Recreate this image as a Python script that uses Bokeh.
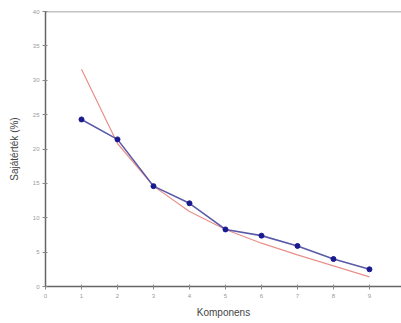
from bokeh.plotting import figure
from bokeh.models import Span, FixedTicker
from bokeh.embed import file_html
from bokeh.resources import INLINE

components = [1, 2, 3, 4, 5, 6, 7, 8, 9]
eigen_pct = [24.3, 21.4, 14.6, 12.1, 8.3, 7.4, 5.9, 4.0, 2.5]
fit_pct = [31.6, 20.8, 14.6, 10.9, 8.3, 6.3, 4.6, 3.0, 1.4]
x_ticks = [0, 1, 2, 3, 4, 5, 6, 7, 8, 9]
y_ticks = [0, 5, 10, 15, 20, 25, 30, 35, 40]

p = figure(width=401, height=320, output_backend="svg", toolbar_location=None,
           x_range=(0, 9.89), y_range=(0, 40),
           min_border_left=45, min_border_top=11, min_border_bottom=30, min_border_right=0)
p.outline_line_color = None
p.xgrid.visible = False
p.ygrid.visible = False
p.background_fill_color = "white"

p.line(components, fit_pct, line_color="#e8908a", line_width=1.2)
p.line(components, eigen_pct, line_color="#5a5aa8", line_width=1.6)
p.scatter(components, eigen_pct, size=5, color="#1a1a90")

top = Span(location=40, dimension="width", line_color="#888888", line_width=1.5)
p.add_layout(top)

for ax in (p.xaxis, p.yaxis):
    ax.axis_line_color = "#666666"
    ax.axis_line_width = 1.5
    ax.major_tick_line_color = "#888888"
    ax.major_tick_out = 3
    ax.major_tick_in = 2
    ax.minor_tick_line_color = None
    ax.major_label_text_font = "Liberation Sans"
    ax.major_label_text_font_size = "6px"
    ax.major_label_text_color = "#999999"
    ax.axis_label_text_font = "Liberation Sans"
    ax.axis_label_text_font_size = "10px"
    ax.axis_label_text_font_style = "normal"
    ax.axis_label_text_color = "#444444"

p.xaxis.ticker = FixedTicker(ticks=x_ticks)
p.yaxis.ticker = FixedTicker(ticks=y_ticks)
p.xaxis.axis_label = "Komponens"
p.yaxis.axis_label = "Sajátérték (%)"
p.xaxis.major_label_standoff = 4
p.yaxis.major_label_standoff = 3
p.xaxis.axis_label_standoff = 6
p.yaxis.axis_label_standoff = 10

open("out.html", "w").write(file_html(p, INLINE))
